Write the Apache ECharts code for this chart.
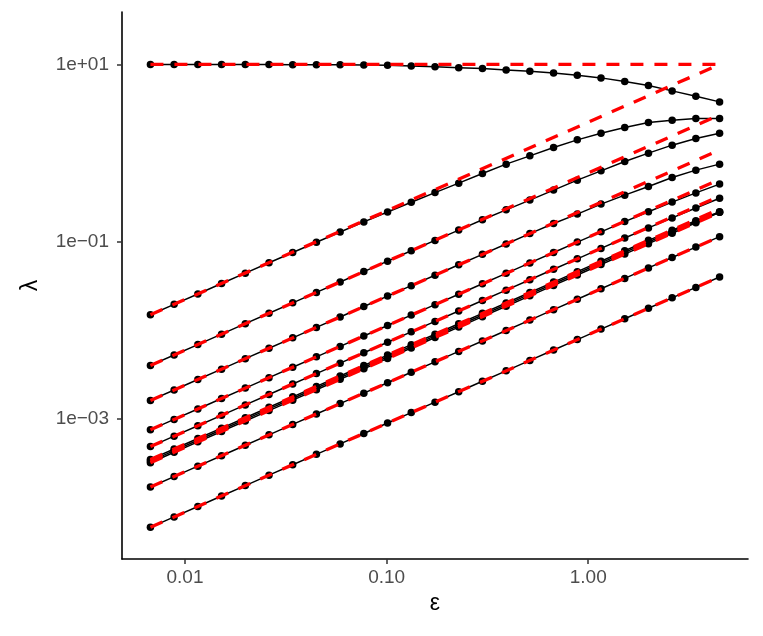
<!DOCTYPE html>
<html>
<head>
<meta charset="utf-8">
<script src="https://cdn.jsdelivr.net/npm/echarts@6/dist/echarts.min.js"></script>
<style>
  html, body { margin: 0; padding: 0; background: #fff; }
  #chart { width: 763px; height: 636px; }
</style>
</head>
<body>
<div id="chart"></div>
<script>
// epsilon values (x)
const eps = [0.006738, 0.008833, 0.01158, 0.01518, 0.01991, 0.02610, 0.03421, 0.04485, 0.05880, 0.07709,
  0.1011, 0.1325, 0.1738, 0.2278, 0.2987, 0.3916, 0.5134, 0.6731, 0.8825, 1.157,
  1.517, 1.989, 2.607, 3.418, 4.482]

// computed eigenvalues (black points)
const lamTop = [10.0, 10.0, 9.99, 9.98, 9.97, 9.96, 9.94, 9.92, 9.89, 9.85, 9.76, 9.60, 9.41,
  9.20, 8.97, 8.67, 8.38, 8.02, 7.56, 7.05, 6.40, 5.77, 5.03, 4.38, 3.78]
const lam1 = [0.01504, 0.01972, 0.02582, 0.03381, 0.04431, 0.05797, 0.07575, 0.0989, 0.1288, 0.1675,
  0.2167, 0.2794, 0.3588, 0.4586, 0.588, 0.751, 0.931, 1.155, 1.41, 1.678, 1.94, 2.21, 2.35, 2.45, 2.45]
const lam2 = [0.004036, 0.005291, 0.006937, 0.009093, 0.01193, 0.01563, 0.02049, 0.02687, 0.03522, 0.04612,
  0.06045, 0.0792, 0.1037, 0.1355, 0.177, 0.2293, 0.2951, 0.3825, 0.4956, 0.631, 0.803, 0.9986, 1.229, 1.459, 1.678]
const lam3 = [0.001627, 0.002133, 0.002797, 0.003666, 0.004808, 0.006303, 0.008262, 0.01083, 0.0142, 0.01862,
  0.02442, 0.032, 0.04197, 0.05501, 0.07214, 0.09457, 0.1238, 0.161, 0.2051, 0.266, 0.3357, 0.4198, 0.530, 0.6427, 0.751]
const lam4 = [0.000758, 0.000994, 0.001303, 0.001708, 0.00224, 0.002936, 0.003849, 0.005046, 0.006615, 0.008673,
  0.01137, 0.01491, 0.01955, 0.02563, 0.0336, 0.04406, 0.05776, 0.07572, 0.09928, 0.1295, 0.169, 0.2182, 0.2801, 0.3557, 0.447]
const lam5 = [0.0004905, 0.000643, 0.000843, 0.001105, 0.001449, 0.0019, 0.002491, 0.003265, 0.004281, 0.005612,
  0.00736, 0.009646, 0.01265, 0.01658, 0.02175, 0.02851, 0.03738, 0.049, 0.06425, 0.08423, 0.1104, 0.1434, 0.186, 0.2406, 0.31]
const lam6 = [0.0003517, 0.0004611, 0.0006045, 0.0007924, 0.001039, 0.001362, 0.001786, 0.002341, 0.003069, 0.004024,
  0.005277, 0.006917, 0.009072, 0.01189, 0.01559, 0.02044, 0.0268, 0.03514, 0.04607, 0.0604, 0.07919, 0.1038, 0.1347, 0.1731, 0.2176]
const lam7 = [0.0003369, 0.0004417, 0.000579, 0.000759, 0.0009955, 0.001305, 0.001711, 0.002243, 0.00294, 0.003855,
  0.005055, 0.006625, 0.00869, 0.01139, 0.01494, 0.01958, 0.02567, 0.03366, 0.04413, 0.05785, 0.07585, 0.09945, 0.1304, 0.1683, 0.2151]
const lam8 = [0.0003227, 0.0004231, 0.0005547, 0.0007271, 0.0009537, 0.00125, 0.001639, 0.002148, 0.002817, 0.003693,
  0.004843, 0.006347, 0.008325, 0.01091, 0.01431, 0.01876, 0.02459, 0.03224, 0.04227, 0.05542, 0.07266, 0.09527, 0.1249, 0.1637, 0.2147]
const lam9 = [0.0001718, 0.0002252, 0.0002953, 0.0003871, 0.0005077, 0.0006656, 0.0008724, 0.001144, 0.001499, 0.001966,
  0.002578, 0.003379, 0.004432, 0.005809, 0.007617, 0.009986, 0.01309, 0.01716, 0.0225, 0.0295, 0.03868, 0.05072, 0.06648, 0.08716, 0.1143]
const lam10 = [0.0000603, 0.0000791, 0.0001036, 0.0001359, 0.0001782, 0.0002336, 0.0003062, 0.0004014, 0.0005263, 0.00069,
  0.0009048, 0.001186, 0.001555, 0.002039, 0.002673, 0.003505, 0.004595, 0.006024, 0.007898, 0.01036, 0.01358, 0.0178, 0.02333, 0.03059, 0.04011]

// asymptotes (red dashed), value at first and last epsilon
const asymStart = [10, 0.01504, 0.004036, 0.001627, 0.000758, 0.0004905, 0.0003517, 0.0003369, 0.0003227, 0.0001718, 0.0000603]
const asymEnd = [10, 10.0, 2.685, 1.082, 0.5042, 0.3263, 0.234, 0.2241, 0.2147, 0.1143, 0.04011]

// tick labels
const xTicks = [0.01, 0.1, 1]
const xTickLabels = ['0.01', '0.10', '1.00']
const yTicks = [0.001, 0.1, 10]
const yTickLabels = ['1e\u221203', '1e\u221201', '1e+01']

const curves = [lamTop, lam1, lam2, lam3, lam4, lam5, lam6, lam7, lam8, lam9, lam10]

function pickLabel(ticks, labels, v) {
  for (let i = 0; i < ticks.length; i++) {
    if (Math.abs(Math.log10(v) - Math.log10(ticks[i])) < 1e-6) return labels[i]
  }
  return ''
}

const series = []
curves.forEach(function(c) {
  series.push({
    type: 'line',
    data: eps.map((e, i) => [e, c[i]]),
    symbol: 'circle',
    symbolSize: 7.5,
    itemStyle: { color: '#000' },
    lineStyle: { color: '#000', width: 1.5 },
    z: 2,
  })
})
asymStart.forEach(function(s, k) {
  series.push({
    type: 'line',
    data: [[eps[0], s], [eps[eps.length - 1], asymEnd[k]]],
    symbol: 'none',
    lineStyle: { color: '#ff0000', width: 3.3, type: [13, 11] },
    z: 3,
  })
})

const myChart = echarts.init(document.getElementById('chart'), null, { renderer: 'canvas' })
myChart.setOption({
  animation: false,
  backgroundColor: '#fff',
  grid: {
    left: 122,
    right: 15,
    top: 12,
    bottom: 77,
    containLabel: false,
    outerBoundsMode: 'none',
  },
  xAxis: {
    type: 'log',
    min: 0.00487,
    max: 6.2,
    name: '\u03b5',
    nameLocation: 'middle',
    nameGap: 33,
    nameTextStyle: { fontFamily: 'Liberation Sans', fontSize: 23, color: '#000' },
    axisLine: { onZero: false, lineStyle: { color: '#000', width: 1.6 } },
    axisTick: { customValues: xTicks, length: 5, lineStyle: { color: '#333', width: 1.5 } },
    axisLabel: {
      customValues: xTicks,
      margin: 9,
      fontFamily: 'Liberation Sans',
      fontSize: 19,
      color: '#4d4d4d',
      formatter: v => pickLabel(xTicks, xTickLabels, v),
    },
    splitLine: { show: false },
    minorTick: { show: false },
  },
  yAxis: {
    type: 'log',
    min: 2.65e-5,
    max: 39,
    name: '\u03bb',
    nameLocation: 'middle',
    nameGap: 80,
    nameTextStyle: { fontFamily: 'Liberation Sans', fontSize: 23, color: '#000' },
    axisLine: { show: true, lineStyle: { color: '#000', width: 1.6 } },
    axisTick: { show: true, customValues: yTicks, length: 5, lineStyle: { color: '#333', width: 1.5 } },
    axisLabel: {
      customValues: yTicks,
      margin: 13,
      fontFamily: 'Liberation Sans',
      fontSize: 19,
      color: '#4d4d4d',
      formatter: v => pickLabel(yTicks, yTickLabels, v),
    },
    splitLine: { show: false },
  },
  series: series,
})
</script>
</body>
</html>
